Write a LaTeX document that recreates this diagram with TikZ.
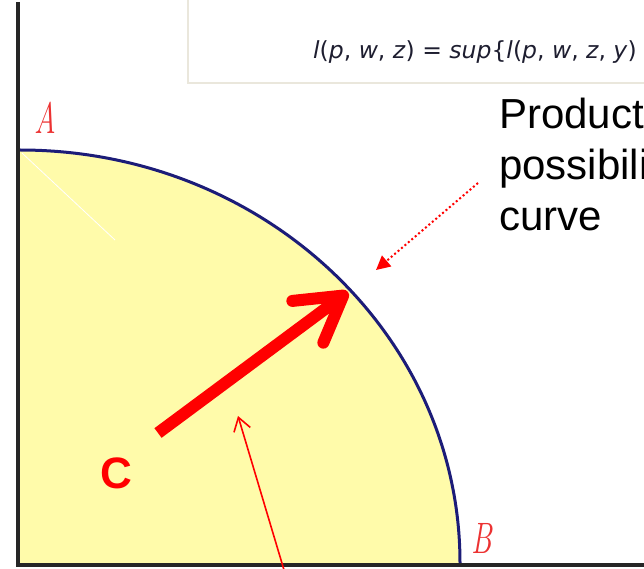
\documentclass[tikz,border=0pt]{standalone}
\usepackage{fontspec}
\setmainfont{Liberation Sans}
\newfontfamily\formelfont{DejaVu Sans}
\newfontfamily\eckfont{Latin Modern Roman}
\usepackage{graphicx}
\usetikzlibrary{arrows.meta}

\definecolor{ppfill}{RGB}{255,251,170}
\definecolor{ppcurve}{RGB}{28,28,120}
\definecolor{boxrand}{RGB}{234,231,220}
\definecolor{formelink}{RGB}{30,30,48}
\definecolor{ptlabel}{RGB}{236,50,50}

\begin{document}
\begin{tikzpicture}[
    x=1pt, y=1pt,
    axis/.style={line width=4pt, black!85},
    ppline/.style={line width=3pt, ppcurve},
    ptlbl/.style={text=ptlabel, inner sep=0pt,
        font=\eckfont\itshape\fontsize{44}{44}\selectfont},
    bigarrow/.style={red, line width=12pt,
        -{Straight Barb[length=44pt, width=52pt, round]}},
    thinarrow/.style={red, line width=1.6pt,
        -{Straight Barb[length=13pt, width=17pt]}},
    dotarrow/.style={red, line width=2pt, dash pattern=on 2pt off 2.5pt,
        -{Triangle[length=14pt, width=14pt]}},
    ppclbl/.style={anchor=north west, align=left, inner sep=0pt,
        font=\fontsize{42}{51}\selectfont}
]
\useasboundingbox (0,0) rectangle (644,568);
\clip (0,0) rectangle (644,568);

% Formelkasten oben
\draw[boxrand, line width=2pt] (188,485) rectangle (700,600);
\node[anchor=base west, inner sep=0pt, text=formelink,
      font=\formelfont\fontsize{23.5}{23.5}\selectfont] (formel) at (313,509)
    {\textit{l}(\textit{p}, \textit{w}, \textit{z}) = \textit{sup}\{\textit{l}(\textit{p}, \textit{w}, \textit{z}, \textit{y})};

% Produktionsmoeglichkeiten (Flaeche + Kurve)
\coordinate (A) at (20,418);
\coordinate (B) at (460,5);
\fill[ppfill] (20,5) -- (A) arc[start angle=90, end angle=0,
    x radius=440pt, y radius=413pt] -- cycle;
\draw[white, line width=0.8pt] (22,415) -- (115,328);
\draw[ppline] (A) arc[start angle=90, end angle=0,
    x radius=440pt, y radius=413pt];

% Achsen
\draw[axis] (18,566) -- (18,2);
\draw[axis] (16,3) -- (650,3);

% Eckpunkte
\node[ptlbl] (lblA) at (45,450) {\scalebox{0.68}[1]{A}};
\node[ptlbl] (lblB) at (482,30) {\scalebox{0.68}[1]{B}};

% Pfeil C
\coordinate (ctail) at (158,135);
\coordinate (ctip) at (348,276);
\draw[bigarrow] (ctail) -- (ctip);
\node[text=red, inner sep=0pt, font=\bfseries\fontsize{44}{44}\selectfont]
    (lblC) at (116,95) {C};

% duenner Pfeil von unten
\coordinate (regbot) at (284,-2);
\coordinate (regtip) at (238,152);
\draw[thinarrow] (regbot) -- (regtip);

% Beschriftung der Kurve
\node[ppclbl] (ppctext) at (499,470) {Product\\possibili\\curve};
\coordinate (notestart) at (478,385);
\coordinate (noteend) at (376,298);
\draw[dotarrow] (notestart) -- (noteend);

\end{tikzpicture}
\end{document}
